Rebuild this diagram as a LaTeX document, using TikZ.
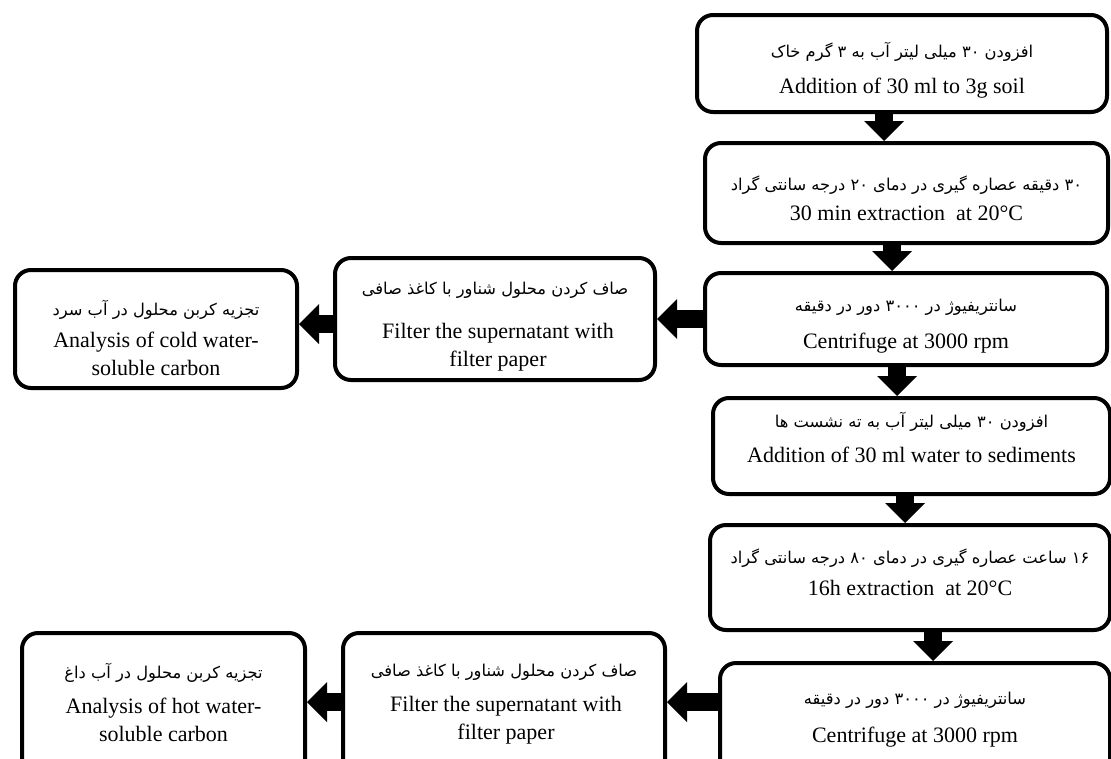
\documentclass[tikz,border=0pt]{standalone}
\usepackage{fontspec}
\setmainfont{Liberation Serif}
\newfontfamily\fa[Script=Arabic]{DejaVu Sans}
\TeXXeTstate=1
\usetikzlibrary{arrows.meta,calc}
\tikzset{
 box/.style={draw, line width=4pt, rounded corners=16pt, inner sep=0pt},
 en/.style={font=\fontsize{22}{28}\selectfont, inner sep=0pt, align=center},
 fa/.style={font=\fontsize{16.3}{20}\fa, inner sep=0pt},
 bigarr/.style={line width=18pt, -{Triangle[width=40pt,length=20pt,line width=0pt]}},
}
\begin{document}
\begin{tikzpicture}[x=1pt,y=-1pt]
\useasboundingbox (0,0) rectangle (1111,758);
% boxes
\node[box, minimum width=410pt, minimum height=97pt] (b1) at (902,63.5) {};
\node[box, minimum width=403pt, minimum height=100pt] (b2) at (906.5,193) {};
\node[box, minimum width=402pt, minimum height=92pt] (b3) at (906,319) {};
\node[box, minimum width=397pt, minimum height=96pt] (b4) at (911.5,446) {};
\node[box, minimum width=400pt, minimum height=105pt] (b5) at (910,577.5) {};
\node[box, minimum width=390pt, minimum height=122pt] (b6) at (915,724) {};
\node[box, minimum width=320pt, minimum height=122pt] (f1) at (495,319) {};
\node[box, minimum width=282pt, minimum height=118pt] (a1) at (156,329) {};
\node[box, minimum width=322pt, minimum height=152pt] (f2) at (504,709) {};
\node[box, minimum width=283pt, minimum height=152pt] (a2) at (163.5,709) {};
% texts
\node[fa] (p1) at (902,52) {\beginR افزودن ۳۰ میلی لیتر آب به ۳ گرم خاک\endR};
\node[en] (e1) at (902,88) {Addition of 30 ml to 3g soil};
\node[fa] (p2) at (906.5,185) {\beginR ۳۰ دقیقه عصاره گیری در دمای ۲۰ درجه سانتی گراد\endR};
\node[en] (e2) at (906.5,213) {30 min extraction\ \ at 20°C};
\node[fa] (p3) at (906,307) {\beginR سانتریفیوژ در ۳۰۰۰ دور در دقیقه\endR};
\node[en] (e3) at (906,343) {Centrifuge at 3000 rpm};
\node[fa] (p4) at (911.5,422) {\beginR افزودن ۳۰ میلی لیتر آب به ته نشست ها\endR};
\node[en] (e4) at (911.5,455) {Addition of 30 ml water to sediments};
\node[fa] (p5) at (910,558) {\beginR ۱۶ ساعت عصاره گیری در دمای ۸۰ درجه سانتی گراد\endR};
\node[en] (e5) at (910,588) {16h extraction\ \ at 20°C};
\node[fa] (p6) at (915,700) {\beginR سانتریفیوژ در ۳۰۰۰ دور در دقیقه\endR};
\node[en] (e6) at (915,737) {Centrifuge at 3000 rpm};
\node[fa] (pf1) at (495,290) {\beginR صاف کردن محلول شناور با کاغذ صافی\endR};
\node[en] (ef1) at (498,347.5) {Filter the supernatant with\\filter paper};
\node[fa] (pa1) at (156,310) {\beginR تجزیه کربن محلول در آب سرد\endR};
\node[en] (ea1) at (156,353.5) {Analysis of cold water-\\soluble carbon};
\node[fa] (pf2) at (504,672) {\beginR صاف کردن محلول شناور با کاغذ صافی\endR};
\node[en] (ef2) at (506,720) {Filter the supernatant with\\filter paper};
\node[fa] (pa2) at (163.5,673) {\beginR تجزیه کربن محلول در آب داغ\endR};
\node[en] (ea2) at (163.5,720) {Analysis of hot water-\\soluble carbon};
% vertical arrows
\coordinate (s12) at ([xshift=-18pt]b1.south);
\coordinate (s23) at ([xshift=-14.5pt]b2.south);
\coordinate (s34) at ([xshift=-9pt]b3.south);
\coordinate (s45) at ([xshift=-6.5pt]b4.south);
\coordinate (s56) at ([xshift=23pt]b5.south);
\draw[bigarr] (s12) -- (s12 |- b2.north);
\draw[bigarr] (s23) -- (s23 |- b3.north);
\draw[bigarr] (s34) -- (s34 |- b4.north);
\draw[bigarr] (s45) -- (s45 |- b5.north);
\draw[bigarr] (s56) -- (s56 |- b6.north);
% horizontal arrows
\draw[bigarr] (b3.west) -- (b3.west -| f1.east);
\coordinate (sfa1) at ([yshift=-5pt]f1.west);
\draw[bigarr] (sfa1) -- (sfa1 -| a1.east);
\coordinate (sbf2) at ([yshift=22pt]b6.west);
\draw[bigarr] (sbf2) -- (sbf2 -| f2.east);
\coordinate (sfa2) at ([yshift=7pt]f2.west);
\draw[bigarr] (sfa2) -- (sfa2 -| a2.east);
\end{tikzpicture}
\end{document}
